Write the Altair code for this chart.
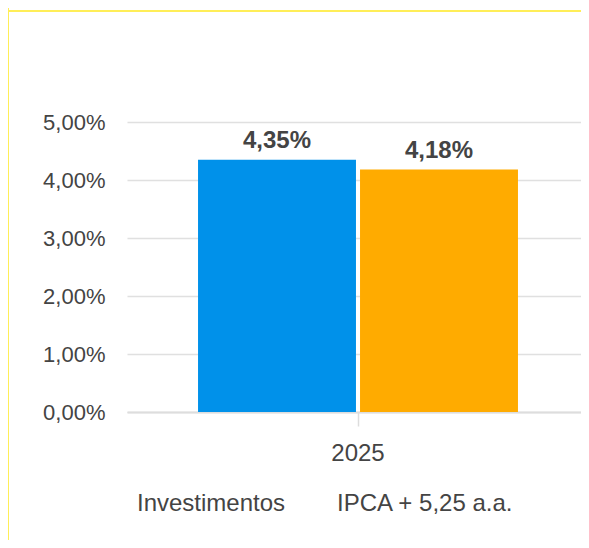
import altair as alt
import pandas as pd

years = ["2025"]
series = ["Investimentos", "IPCA + 5,25 a.a."]
values = [4.35, 4.18]
colors = ["#0091EA", "#FFAB00"]
y_ticks = [0, 1, 2, 3, 4, 5]

df = pd.DataFrame({"ano": years * len(series), "serie": series, "valor": values})
df["rotulo"] = [f"{v:.2f}".replace(".", ",") + "%" for v in values]

W, H = 454, 290
FONT = "Liberation Sans, Arial, sans-serif"
TXT = "#444444"

x_enc = alt.X(
    "ano:N",
    scale=alt.Scale(paddingInner=0, paddingOuter=0.222, range=[0, 462]),
    axis=alt.Axis(title=None, labelAngle=0, labelFontSize=24, labelColor=TXT, labelFont=FONT,
                  tickSize=14, tickColor="#dddddd", tickWidth=1.5, domainColor="#dddddd",
                  domainWidth=2, labelPadding=15, grid=False),
)
xoff = alt.XOffset("serie:N", scale=alt.Scale(domain=series, paddingInner=0.025, paddingOuter=0))
y_enc = alt.Y(
    "valor:Q",
    scale=alt.Scale(domain=[0, 5]),
    axis=alt.Axis(values=y_ticks, title=None,
                  labelExpr="replace(format(datum.value, '.2f'), '.', ',') + '%'",
                  labelFontSize=22, labelColor=TXT, labelFont=FONT, labelPadding=22,
                  ticks=False, domain=False, gridColor="#e0e0e0", gridWidth=1.5),
)

base = alt.Chart(df)
bars = base.mark_bar().encode(
    x=x_enc, xOffset=xoff, y=y_enc,
    color=alt.Color("serie:N", scale=alt.Scale(domain=series, range=colors),
                    legend=alt.Legend(title=None, orient="none", legendX=-14, legendY=370,
                                      direction="horizontal", symbolOpacity=0, symbolSize=0,
                                      symbolStrokeWidth=0, labelFontSize=24, labelColor=TXT,
                                      labelFont=FONT, columnPadding=27, labelOffset=0,
                                      labelLimit=400)),
)
labels = base.mark_text(dy=-12, baseline="alphabetic", fontSize=24, fontWeight="bold",
                        color=TXT, font=FONT).encode(
    x=x_enc, xOffset=xoff, y="valor:Q", text="rotulo:N"
)

frame = pd.DataFrame({"k": [0]})
vline = alt.Chart(frame).mark_rule(color="#FFEE58", strokeWidth=2).encode(
    x=alt.value(-119), y=alt.value(-114), y2=alt.value(H + 128)
)
hline = alt.Chart(frame).mark_rule(color="#FFEE58", strokeWidth=2).encode(
    y=alt.value(-111), x=alt.value(-119), x2=alt.value(W)
)

chart = alt.layer(bars, labels, vline, hline).properties(
    width=W, height=H,
    autosize=alt.AutoSizeParams(type="none"),
    padding={"left": 119, "top": 114, "right": 0, "bottom": 128},
).configure_view(stroke=None)

chart.save("out.html", embed_options={"renderer": "svg", "actions": False})
